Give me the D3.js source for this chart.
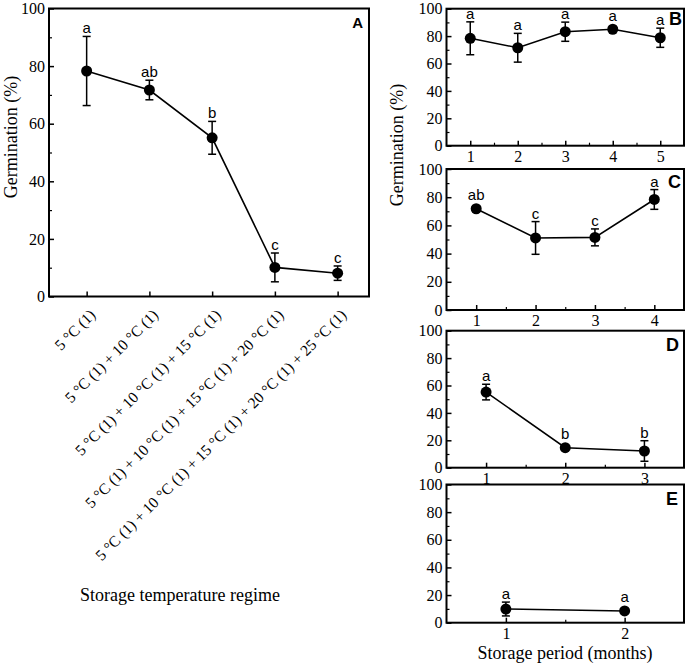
<!DOCTYPE html>
<html>
<head>
<meta charset="utf-8">
<script src="https://cdn.jsdelivr.net/npm/d3@7"></script>
<style>
  html, body { margin: 0; padding: 0; background: #fff; }
  svg { display: block; }
</style>
</head>
<body>
<script>
// ---------------- DATA ----------------
const regimeLabels = [
  "5 °C (1)",
  "5 °C (1) + 10 °C (1)",
  "5 °C (1) + 10 °C (1) + 15 °C (1)",
  "5 °C (1) + 10 °C (1) + 15 °C (1) + 20 °C (1)",
  "5 °C (1) + 10 °C (1) + 15 °C (1) + 20 °C (1) + 25 °C (1)"
];
const regimeMeans = [78.3, 71.7, 55.1, 10.1, 8.1];
const regimeErrs = [12.0, 3.4, 5.7, 5.0, 2.5];
const regimeLetters = ["a", "ab", "b", "c", "c"];

const monthsB = [1, 2, 3, 4, 5];
const meansB = [78.4, 71.5, 83.2, 85.0, 78.8];
const errsB = [12.0, 10.5, 7.0, 1.0, 7.0];
const lettersB = ["a", "a", "a", "a", "a"];

const monthsC = [1, 2, 3, 4];
const meansC = [71.8, 51.1, 51.5, 78.4];
const errsC = [2.0, 11.6, 6.0, 7.0];
const lettersC = ["ab", "c", "c", "a"];

const monthsD = [1, 2, 3];
const meansD = [55.2, 14.6, 12.2];
const errsD = [5.7, 1.0, 7.5];
const lettersD = ["a", "b", "b"];

const monthsE = [1, 2];
const meansE = [9.9, 8.5];
const errsE = [5.0, 1.5];
const lettersE = ["a", "a"];

const yTicks = [0, 20, 40, 60, 80, 100];
const yMinorTicks = [10, 30, 50, 70, 90];
const yLabel = "Germination (%)";
const xLabelA = "Storage temperature regime";
const xLabelRight = "Storage period (months)";

// ---------------- DRAW ----------------
const W = 685, H = 665;
const SERIF = "'Liberation Serif', 'Times New Roman', serif";
const SANS = "'Liberation Sans', Arial, sans-serif";

const svg = d3.select("body").append("svg").attr("width", W).attr("height", H);

function drawPanel(opts) {
  const { x0, x1, y0, y1, xs, ys, errs, letters, xDomain, xTicks, xMinor, tag, tagSize, tagX, tagY, xTickLabels } = opts;
  const g = svg.append("g");
  const x = d3.scaleLinear().domain(xDomain).range([x0, x1]);
  const y = d3.scaleLinear().domain([0, 100]).range([y1, y0]);

  // y axis major
  const ya = g.append("g").attr("transform", `translate(${x0},0)`)
    .call(d3.axisLeft(y).tickValues(yTicks).tickSize(-5).tickPadding(4).tickFormat(d3.format("d")));
  ya.select(".domain").remove();
  ya.selectAll("line").attr("stroke", "#000").attr("stroke-width", 1.5);
  ya.selectAll("text").attr("font-family", SERIF).attr("font-size", 16).attr("fill", "#000");
  const ym = g.append("g").attr("transform", `translate(${x0},0)`)
    .call(d3.axisLeft(y).tickValues(yMinorTicks).tickSize(-3).tickFormat(""));
  ym.select(".domain").remove();
  ym.selectAll("line").attr("stroke", "#000").attr("stroke-width", 1.2);

  // x axis
  const xa = g.append("g").attr("transform", `translate(0,${y1})`)
    .call(d3.axisBottom(x).tickValues(xTicks).tickSize(-5).tickPadding(5)
      .tickFormat(xTickLabels ? (() => "") : d3.format("d")));
  xa.select(".domain").remove();
  xa.selectAll("line").attr("stroke", "#000").attr("stroke-width", 1.5);
  xa.selectAll("text").attr("font-family", SERIF).attr("font-size", 16).attr("fill", "#000");
  if (xMinor && xMinor.length) {
    const xm = g.append("g").attr("transform", `translate(0,${y1})`)
      .call(d3.axisBottom(x).tickValues(xMinor).tickSize(-3).tickFormat(""));
    xm.select(".domain").remove();
    xm.selectAll("line").attr("stroke", "#000").attr("stroke-width", 1.2);
  }

  // frame
  g.append("rect").attr("x", x0).attr("y", y0).attr("width", x1 - x0).attr("height", y1 - y0)
    .attr("fill", "none").attr("stroke", "#000").attr("stroke-width", 2);

  // line
  const pts = xs.map((v, i) => [x(v), y(ys[i])]);
  g.append("path").attr("d", d3.line()(pts)).attr("fill", "none").attr("stroke", "#000").attr("stroke-width", 1.6);

  // error bars
  xs.forEach((v, i) => {
    const cx = x(v), top = y(ys[i] + errs[i]), bot = y(ys[i] - errs[i]);
    g.append("line").attr("x1", cx).attr("x2", cx).attr("y1", top).attr("y2", bot).attr("stroke", "#000").attr("stroke-width", 1.5);
    [top, bot].forEach(yy => g.append("line").attr("x1", cx - 4).attr("x2", cx + 4).attr("y1", yy).attr("y2", yy).attr("stroke", "#000").attr("stroke-width", 1.5));
  });
  // markers
  xs.forEach((v, i) => {
    g.append("circle").attr("cx", x(v)).attr("cy", y(ys[i])).attr("r", 5.5).attr("fill", "#000");
  });
  // letters
  xs.forEach((v, i) => {
    const top = Math.min(y(ys[i] + errs[i]), y(ys[i]) - 5.5);
    g.append("text").attr("x", x(v)).attr("y", top - 3).attr("text-anchor", "middle")
      .attr("font-family", SANS).attr("font-size", 15).attr("fill", "#000").text(letters[i]);
  });
  // tag
  g.append("text").attr("x", tagX).attr("y", tagY).attr("text-anchor", "end")
    .attr("font-family", SANS).attr("font-weight", "bold").attr("font-size", tagSize).attr("fill", "#000").text(tag);

  return { x, y, g };
}

// Panel A
const idxA = regimeMeans.map((d, i) => i + 1);
const pA = drawPanel({
  x0: 49, x1: 369, y0: 8.5, y1: 296.5,
  xs: idxA, ys: regimeMeans, errs: regimeErrs, letters: regimeLetters,
  xDomain: [0.4, 5.5], xTicks: idxA, xMinor: [], tag: "A", tagSize: 15, tagX: 363, tagY: 28,
  xTickLabels: regimeLabels
});
// rotated category labels
regimeLabels.forEach((lab, i) => {
  const tx = pA.x(i + 1) + 6, ty = 312;
  svg.append("text").attr("transform", `translate(${tx},${ty}) rotate(-45)`)
    .attr("text-anchor", "end").attr("dy", "0.35em")
    .attr("font-family", SERIF).attr("font-size", 15.5).attr("fill", "#000").text(lab);
});
svg.append("text").attr("x", 180).attr("y", 601).attr("text-anchor", "middle")
  .attr("font-family", SERIF).attr("font-size", 18).attr("fill", "#000").text(xLabelA);
svg.append("text").attr("transform", "translate(17,137) rotate(-90)").attr("text-anchor", "middle")
  .attr("font-family", SERIF).attr("font-size", 18).attr("fill", "#000").text(yLabel);

// Right panels
const RX0 = 446.5, RX1 = 684;
drawPanel({ x0: RX0, x1: RX1, y0: 8.7, y1: 145.7, xs: monthsB, ys: meansB, errs: errsB, letters: lettersB,
  xDomain: [0.5, 5.5], xTicks: monthsB, xMinor: [1.5, 2.5, 3.5, 4.5], tag: "B", tagSize: 18, tagX: 682, tagY: 25 });
drawPanel({ x0: RX0, x1: RX1, y0: 169, y1: 310, xs: monthsC, ys: meansC, errs: errsC, letters: lettersC,
  xDomain: [0.5, 4.5], xTicks: monthsC, xMinor: [1.5, 2.5, 3.5], tag: "C", tagSize: 18, tagX: 681, tagY: 188 });
drawPanel({ x0: RX0, x1: RX1, y0: 330.7, y1: 467.7, xs: monthsD, ys: meansD, errs: errsD, letters: lettersD,
  xDomain: [0.5, 3.5], xTicks: monthsD, xMinor: [1.5, 2.5], tag: "D", tagSize: 18, tagX: 679, tagY: 351 });
drawPanel({ x0: RX0, x1: RX1, y0: 484.5, y1: 622.7, xs: monthsE, ys: meansE, errs: errsE, letters: lettersE,
  xDomain: [0.5, 2.5], xTicks: monthsE, xMinor: [1.5], tag: "E", tagSize: 18, tagX: 678, tagY: 505 });

svg.append("text").attr("x", 565).attr("y", 659).attr("text-anchor", "middle")
  .attr("font-family", SERIF).attr("font-size", 18).attr("fill", "#000").text(xLabelRight);
svg.append("text").attr("transform", "translate(403,145) rotate(-90)").attr("text-anchor", "middle")
  .attr("font-family", SERIF).attr("font-size", 18).attr("fill", "#000").text(yLabel);
</script>
</body>
</html>
